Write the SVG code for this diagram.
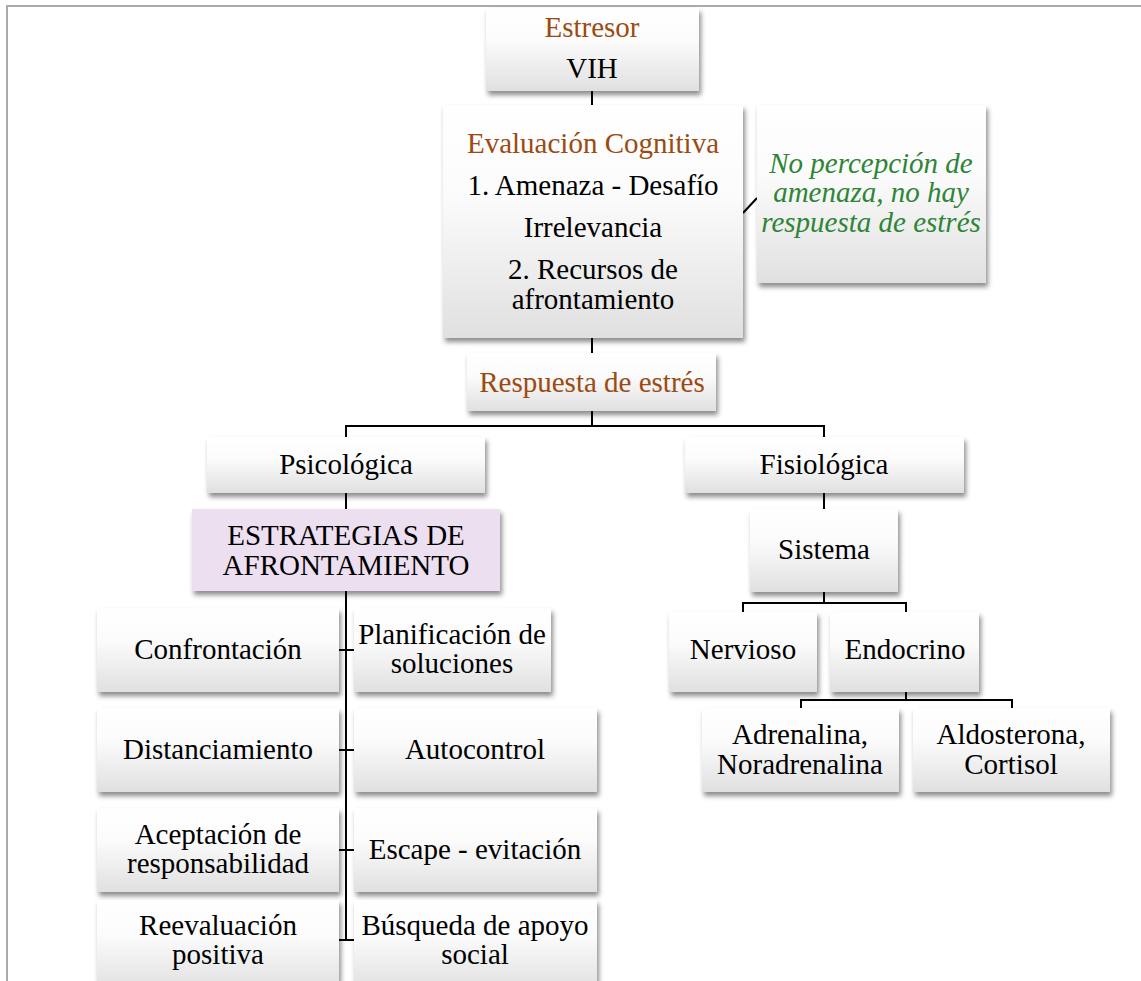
<svg xmlns="http://www.w3.org/2000/svg" width="1141" height="981" viewBox="0 0 1141 981">
<defs>
<linearGradient id="g" x1="0" y1="0" x2="0" y2="1">
<stop offset="0" stop-color="#ffffff"/>
<stop offset="0.4" stop-color="#fbfbfb"/>
<stop offset="1" stop-color="#e0e0e0"/>
</linearGradient>
<filter id="sh" x="-10%" y="-10%" width="125%" height="130%">
<feDropShadow dx="2" dy="4" stdDeviation="2.5" flood-color="#000" flood-opacity="0.45"/>
</filter>
</defs>
<style>
.b{fill:url(#g);filter:url(#sh)}
.p{fill:#ecdff0;filter:url(#sh)}
text{font-family:"Liberation Serif","Times New Roman",serif;font-size:29px;text-anchor:middle;fill:#000}
.br{fill:#9c4a12}
.gr{fill:#2f8537;font-style:italic}
.c line,.c polyline{stroke:#000;stroke-width:2;fill:none}
</style>
<rect width="1141" height="981" fill="#fff"/>
<path d="M7 981 V6 H1141" fill="none" stroke="#aaa" stroke-width="2"/>

<g class="c" id="connectors">
<line x1="592" y1="91" x2="592" y2="105"/>
<line x1="743" y1="213" x2="757" y2="198"/>
<line x1="592" y1="338" x2="592" y2="353"/>
<line x1="592" y1="411" x2="592" y2="426"/>
<polyline points="346,437 346,426 824,426 824,437"/>
<line x1="346" y1="493" x2="346" y2="509"/>
<line x1="824" y1="493" x2="824" y2="509"/>
<line x1="346" y1="591" x2="346" y2="941"/>
<line x1="339" y1="650" x2="354" y2="650"/>
<line x1="339" y1="750" x2="354" y2="750"/>
<line x1="339" y1="850" x2="354" y2="850"/>
<line x1="339" y1="940" x2="354" y2="940"/>
<line x1="824" y1="592" x2="824" y2="603"/>
<polyline points="743,612 743,603 906,603 906,612"/>
<line x1="906" y1="692" x2="906" y2="700"/>
<polyline points="801,708 801,700 1012,700 1012,708"/>
</g>

<g id="estresor">
<rect class="b" x="486" y="8" width="213" height="83"/>
<text class="br" x="592" y="37">Estresor</text>
<text x="592" y="78">VIH</text>
</g>
<g id="evaluacion">
<rect class="b" x="443" y="105" width="300" height="233"/>
<text class="br" x="593" y="153">Evaluación Cognitiva</text>
<text x="593" y="195">1. Amenaza - Desafío</text>
<text x="593" y="237">Irrelevancia</text>
<text x="593" y="279">2. Recursos de</text>
<text x="593" y="309">afrontamiento</text>
</g>
<g id="no-percepcion">
<rect class="b" x="757" y="105" width="229" height="178"/>
<text class="gr" x="871" y="173">No percepción de</text>
<text class="gr" x="871" y="202">amenaza, no hay</text>
<text class="gr" x="871" y="232">respuesta de estrés</text>
</g>
<g id="respuesta">
<rect class="b" x="467" y="353" width="249" height="58"/>
<text class="br" x="592" y="392">Respuesta de estrés</text>
</g>
<g id="psicologica">
<rect class="b" x="207" y="437" width="278" height="56"/>
<text x="346" y="474">Psicológica</text>
</g>
<g id="fisiologica">
<rect class="b" x="685" y="437" width="279" height="56"/>
<text x="824" y="474">Fisiológica</text>
</g>
<g id="estrategias">
<rect class="p" x="192" y="509" width="308" height="82"/>
<text x="346" y="545">ESTRATEGIAS DE</text>
<text x="346" y="575">AFRONTAMIENTO</text>
</g>
<g id="sistema">
<rect class="b" x="750" y="509" width="148" height="83"/>
<text x="824" y="559">Sistema</text>
</g>
<g id="confrontacion">
<rect class="b" x="97" y="608" width="242" height="84"/>
<text x="218" y="659">Confrontación</text>
</g>
<g id="planificacion">
<rect class="b" x="354" y="608" width="197" height="84"/>
<text x="452" y="644">Planificación de</text>
<text x="452" y="673">soluciones</text>
</g>
<g id="distanciamiento">
<rect class="b" x="97" y="708" width="242" height="84"/>
<text x="218" y="759">Distanciamiento</text>
</g>
<g id="autocontrol">
<rect class="b" x="354" y="708" width="243" height="84"/>
<text x="475" y="759">Autocontrol</text>
</g>
<g id="aceptacion">
<rect class="b" x="97" y="808" width="242" height="84"/>
<text x="218" y="844">Aceptación de</text>
<text x="218" y="873">responsabilidad</text>
</g>
<g id="escape">
<rect class="b" x="354" y="808" width="243" height="84"/>
<text x="475" y="859">Escape - evitación</text>
</g>
<g id="reevaluacion">
<rect class="b" x="97" y="900" width="242" height="90"/>
<text x="218" y="935">Reevaluación</text>
<text x="218" y="964">positiva</text>
</g>
<g id="busqueda">
<rect class="b" x="354" y="900" width="243" height="90"/>
<text x="475" y="935">Búsqueda de apoyo</text>
<text x="475" y="964">social</text>
</g>
<g id="nervioso">
<rect class="b" x="669" y="612" width="148" height="80"/>
<text x="743" y="659">Nervioso</text>
</g>
<g id="endocrino">
<rect class="b" x="830" y="612" width="149" height="80"/>
<text x="905" y="659">Endocrino</text>
</g>
<g id="adrenalina">
<rect class="b" x="702" y="708" width="197" height="84"/>
<text x="800" y="744">Adrenalina,</text>
<text x="800" y="774">Noradrenalina</text>
</g>
<g id="aldosterona">
<rect class="b" x="913" y="708" width="197" height="84"/>
<text x="1011" y="744">Aldosterona,</text>
<text x="1011" y="774">Cortisol</text>
</g>
</svg>
